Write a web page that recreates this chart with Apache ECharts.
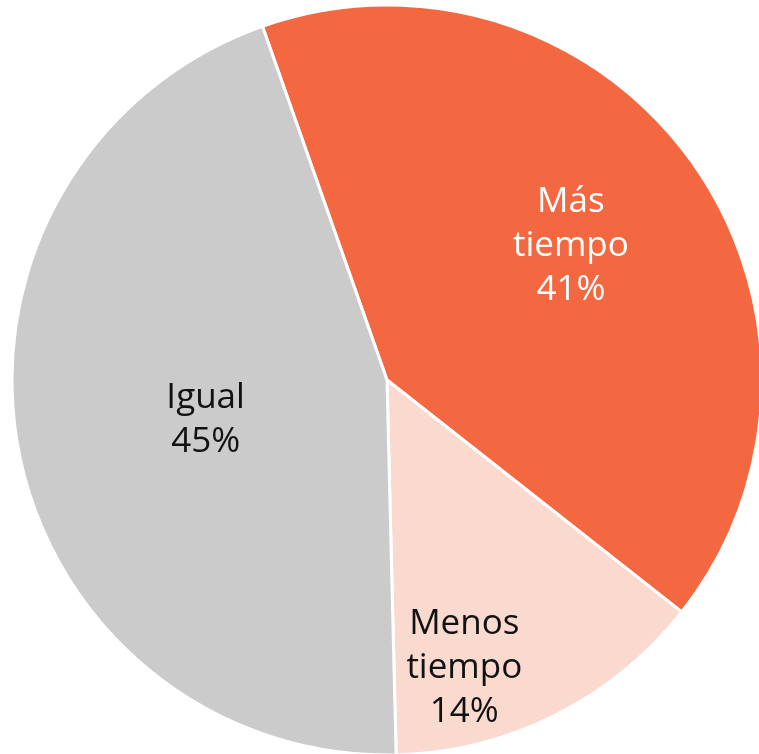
<!DOCTYPE html>
<html>
<head>
<meta charset="utf-8">
<script src="https://cdn.jsdelivr.net/npm/echarts@6/dist/echarts.min.js"></script>
<style>
  html, body { margin: 0; padding: 0; background: #fff; }
  #chartPie { width: 759px; height: 754px; }
</style>
</head>
<body>
<div id="chartPie"></div>
<script>
// categorias y porcentajes
var categories = ['Más\ntiempo', 'Menos\ntiempo', 'Igual'];
var values = [41, 14, 45];
var colors = ['#F46841', '#FAD9CF', '#CBCBCB'];
var labelColors = ['#ffffff', '#111111', '#111111'];
var labelOffsets = [[29, -23], [-8, 118], [6, 6]];   // ajustar posicion de cada etiqueta

var chart = echarts.init(document.getElementById('chartPie'));

var data = categories.map(function (name, i) {
  return {
    name: name,
    value: values[i],
    itemStyle: { color: colors[i] },
    label: { color: labelColors[i], offset: labelOffsets[i] }
  };
});

var option = {
  animation: false,
  series: [
    {
      type: 'pie',
      center: [387, 380],
      radius: 375,
      startAngle: 109.4,
      clockwise: true,
      itemStyle: {
        borderColor: '#ffffff',
        borderWidth: 3
      },
      label: {
        show: true,
        position: 'inside',
        formatter: '{b}\n{c}%',
        fontFamily: 'Open Sans',
        fontSize: 35,
        lineHeight: 44,
        align: 'center'
      },
      labelLine: { show: false },
      emphasis: { disabled: true },
      data: data
    }
  ]
};

chart.setOption(option);
</script>
</body>
</html>
